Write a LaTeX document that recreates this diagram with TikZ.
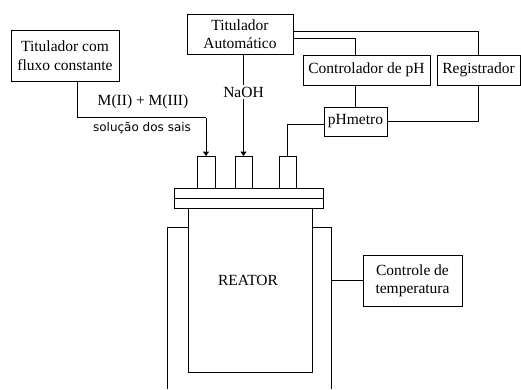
\documentclass[tikz,border=0pt]{standalone}
\usepackage{fontspec}
\setmainfont{Liberation Serif}
\newfontfamily\labsans{DejaVu Sans}
\usetikzlibrary{arrows.meta}
\begin{document}
\begin{tikzpicture}[x=1pt,y=-1pt,
  every node/.style={inner sep=0pt, outer sep=0pt},
  box/.style={draw, line width=1pt, align=center, font=\fontsize{15.5}{18}\selectfont},
  tube/.style={draw, line width=1pt},
  wire/.style={line width=1pt},
  feed/.style={line width=1pt, -{Triangle[width=6pt,length=4.5pt]}},
  txt/.style={font=\fontsize{15.5}{18}\selectfont}]
\useasboundingbox (0,0) rectangle (521,389);
% boxes
\node[box, minimum width=108pt, minimum height=51pt, font=\fontsize{15.5}{19}\selectfont] (tfc) at (65,55.5) {Titulador com\\fluxo constante};
\node[box, minimum width=106pt, minimum height=40pt] (ta) at (240,34) {Titulador\\Autom\'atico};
\node[box, minimum width=127pt, minimum height=30pt] (cph) at (366.5,70) {Controlador de pH};
\node[box, minimum width=83pt, minimum height=30pt] (reg) at (478.5,70) {Registrador};
\node[box, minimum width=63pt, minimum height=29pt] (phm) at (355.5,121.5) {pHmetro};
\node[box, minimum width=99pt, minimum height=51pt] (ct) at (412.5,280.5) {Controle de\\temperatura};
% tubes
\node[tube, minimum width=18pt, minimum height=32pt] (t1) at (206,172) {};
\node[tube, minimum width=17pt, minimum height=32pt] (t2) at (243.5,172) {};
\node[tube, minimum width=17pt, minimum height=32pt] (t3) at (287.5,172) {};
% lid
\node[tube, minimum width=149pt, minimum height=20pt] (lid) at (248.5,198) {};
\draw[wire] (lid.west) -- (lid.east);
% reactor
\node[tube, minimum width=124pt, minimum height=164pt] (reac) at (250,290) {};
\node[txt] (rlab) at (248,280) {REATOR};
% jacket
\coordinate (jl1) at (188,227);
\coordinate (jl2) at (167,227);
\coordinate (jl3) at (167,389);
\coordinate (jr1) at (312,227);
\coordinate (jr2) at (331,227);
\coordinate (jr3) at (331,389);
\coordinate (jr) at (331,280.5);
\draw[wire] (jl1) -- (jl2) -- (jl3);
\draw[wire] (jr1) -- (jr2) -- (jr3);
\draw[wire] (jr) -- (ct.west);
% feeds
\coordinate (j0) at (77,117.5);
\coordinate (j1) at (206,117.5);
\draw[wire] (j0 |- tfc.south) -- (j0) -- (j1);
\draw[feed] (j1) -- (t1.north);
\node[txt] (mlab) at (143,102) {M(II) + M(III)};
\node[font=\labsans\fontsize{12}{14}\selectfont] (slab) at (142,128) {solução dos sais};
\draw[feed] (t2.north |- ta.south) -- (t2.north);
\node[txt, fill=white, inner sep=2pt] (naoh) at (243.5,92) {NaOH};
% wires
\draw[wire] ([yshift=3pt]ta.east) -| (reg.north);
\draw[wire] ([yshift=-4pt]ta.east) -| ([xshift=-11.5pt]cph.north);
\draw[wire] (phm.north |- cph.south) -- (phm.north);
\draw[wire] (phm.east) -| (reg.south);
\draw[wire] ([yshift=-3pt]phm.west) -| (t3.north);
\end{tikzpicture}
\end{document}
